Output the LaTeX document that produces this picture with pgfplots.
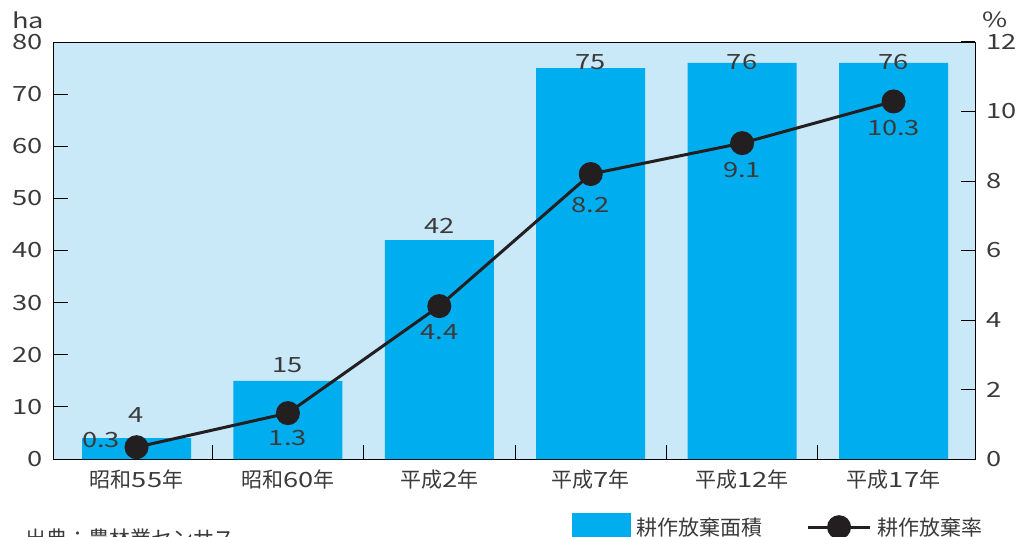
\documentclass[border=0pt]{standalone}
\usepackage{fontspec}
\setmainfont{Noto Sans CJK JP}
\newfontfamily\numfont{Noto Sans CJK JP}[FakeStretch=1.3]
\usepackage{pgfplots}
\pgfplotsset{compat=1.18}
\definecolor{barblue}{HTML}{00AEEF}
\definecolor{bgblue}{HTML}{C9E8F8}
\definecolor{txt}{HTML}{3A3A3A}
\definecolor{mk}{HTML}{231F20}
\pgfplotsset{
  mylinelegend/.style={legend image code/.code={\draw[mark repeat=2, mark phase=2, ##1] plot coordinates {(0pt,0pt) (31pt,0pt) (62pt,0pt)};}},
}
\begin{document}
\begin{tikzpicture}
\pgfplotsset{
  every axis/.append style={
    font=\fontsize{21}{25}\selectfont,
    scale only axis, width=921pt, height=417pt,
    xmin=-0.545, xmax=5.538,
    tick align=inside, major tick length=14pt,
    every tick/.style={black, line width=1pt},
    tick label style={text=txt},
    /pgf/number format/assume math mode=true,
    axis line style={line width=1pt, black},
  },
}
\begin{axis}[
  name=a,
  ymin=0, ymax=80, ytick={0,10,...,80},
  ytick pos=left, xtick pos=bottom,
  xtick={0.5,1.5,2.5,3.5,4.5}, xticklabels={},
  extra x ticks={0,1,2,3,4,5},
  extra x tick labels={昭和{\numfont 55}年,昭和{\numfont 60}年,平成{\numfont 2}年,平成{\numfont 7}年,平成{\numfont 12}年,平成{\numfont 17}年},
  extra x tick style={major tick length=0pt, tick label style={yshift=-7pt}},
  yticklabel style={xshift=-8pt, font=\fontsize{21}{25}\numfont},
  axis background/.style={fill=bgblue},
  clip=false,
]
\addplot[ybar, bar width=109pt, bar shift=0pt, fill=barblue, draw=none]
  coordinates {(0,4) (1,15) (2,42) (3,75) (4,76) (5,76)};
\addplot[draw=none, mark=none, nodes near coords, point meta=explicit symbolic,
  every node near coord/.append style={anchor=center, text=txt, inner sep=0pt, font=\fontsize{21}{25}\numfont}]
  table[meta=l] {
x y l
0 8.44 4
1 18.0 15
2 44.7 42
3 76.2 75
4 76.2 76
5 76.2 76
};
\node[text=txt, anchor=center] at (axis description cs:-0.028,1.053) {\numfont ha};
\node[text=txt, anchor=west] at (axis description cs:-0.035,-0.19) {出典：農林業センサス};
\end{axis}
\begin{axis}[
  ymin=0, ymax=12, ytick={0,2,...,12},
  axis x line=none, axis y line*=right,
  yticklabel style={xshift=8pt, font=\fontsize{21}{25}\numfont},
  clip=false,
  legend columns=2,
  legend style={at={(axis description cs:0.5624,-0.129)}, anchor=north west,
    draw=none, fill=none, inner sep=0pt, text=txt,
    /tikz/every even column/.append style={column sep=38pt},
    nodes={inner xsep=6pt, inner ysep=0pt}},
]
\addlegendimage{legend image code/.code={\fill[barblue] (0pt,-12pt) rectangle (58pt,14pt);}}
\addlegendentry{耕作放棄面積}
\addplot[line width=3pt, mk, mark=*, mark size=10.5pt, mylinelegend]
  coordinates {(0,0.34) (1,1.32) (2,4.40) (3,8.20) (4,9.09) (5,10.29)};
\addlegendentry{耕作放棄率}
\addplot[draw=none, mark=none, nodes near coords, point meta=explicit symbolic,
  every node near coord/.append style={anchor=center, text=txt, inner sep=0pt, font=\fontsize{21}{25}\numfont}]
  table[meta=l] {
x y l
-0.234 0.547 0.3
1 0.604 1.3
2 3.65 4.4
3 7.31 8.2
4 8.32 9.1
5 9.53 10.3
};
\node[text=txt, anchor=center] at (axis description cs:1.022,1.053) {\numfont\%};
\end{axis}
\pgfresetboundingbox
\path[use as bounding box] ([shift={(-54pt,-77pt)}]a.south west) rectangle ([shift={(968pt,459pt)}]a.south west);
\end{tikzpicture}
\end{document}
